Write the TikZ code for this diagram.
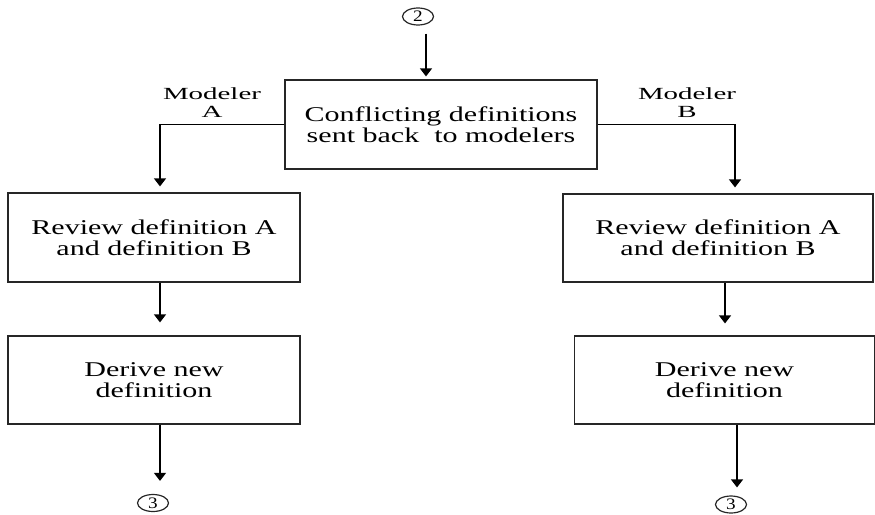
\documentclass[tikz,border=0pt]{standalone}
\usepackage{fontspec}
\setmainfont{Liberation Serif}
\newfontfamily\boxfont[FakeStretch=1.43]{Liberation Serif}
\newfontfamily\labfont[FakeStretch=1.7]{Liberation Serif}
\newfontfamily\numfont[FakeStretch=1.2]{Liberation Serif}
\usetikzlibrary{shapes.geometric,arrows.meta}
\tikzset{
  stepbox/.style={draw=black!85, line width=1.2pt, rectangle, inner sep=0pt,
    align=center, font=\boxfont\fontsize{21}{21}\selectfont},
  label/.style={align=center, inner sep=0pt, font=\labfont\fontsize{17}{18}\selectfont},
  conn/.style={draw=black!85, line width=1.2pt, ellipse, inner sep=0pt,
    minimum width=31pt, minimum height=17pt, font=\numfont\fontsize{16}{16}\selectfont},
  arr/.style={line width=1.2pt, -{Triangle[width=12pt,length=8pt]}},
}
\begin{document}
\begin{tikzpicture}[x=1pt,y=-1pt]
\useasboundingbox (0,0) rectangle (875,514);
% entry connector
\node[conn] (c2) at (418,16.5) {2};
% top process box
\node[stepbox, minimum width=312pt, minimum height=89pt] (top) at (441,124.5)
  {Conflicting definitions\\sent back\ \ to modelers};
% branch labels
\node[label] (labA) at (212,103) {Modeler\\A};
\node[label] (labB) at (687,103) {Modeler\\B};
% modeler A column
\node[stepbox, minimum width=292pt, minimum height=89pt] (revA) at (154,237.5)
  {Review definition A\\and definition B};
\node[stepbox, minimum width=292pt, minimum height=88pt] (derA) at (154,380)
  {Derive new\\definition};
\node[conn] (c3A) at (153,503) {3};
% modeler B column
\node[stepbox, minimum width=310pt, minimum height=88pt] (revB) at (718,238)
  {Review definition A\\and definition B};
\node[stepbox, minimum width=300pt, minimum height=88pt] (derB) at (724.5,380)
  {Derive new\\definition};
\node[conn] (c3B) at (731,504.5) {3};
% arrow columns
\coordinate (colT) at (426,0);
\coordinate (colA) at (160,0);
\coordinate (colB) at (735,0);
\coordinate (colB2) at (725,0);
\coordinate (colB3) at (737,0);
% connectors
\draw[arr, shorten <=8pt, shorten >=3pt] (colT |- c2.south) -- (colT |- top.north);
\draw[arr, shorten >=6pt] (top.west) -| (colA |- revA.north);
\draw[arr, shorten >=6pt] (top.east) -| (colB |- revB.north);
\draw[arr, shorten >=13pt] (colA |- revA.south) -- (colA |- derA.north);
\draw[arr, shorten >=12pt] (colB2 |- revB.south) -- (colB2 |- derB.north);
\draw[arr, shorten >=13pt] (colA |- derA.south) -- (colA |- c3A.north);
\draw[arr, shorten >=8pt] (colB3 |- derB.south) -- (colB3 |- c3B.north);
\end{tikzpicture}
\end{document}
